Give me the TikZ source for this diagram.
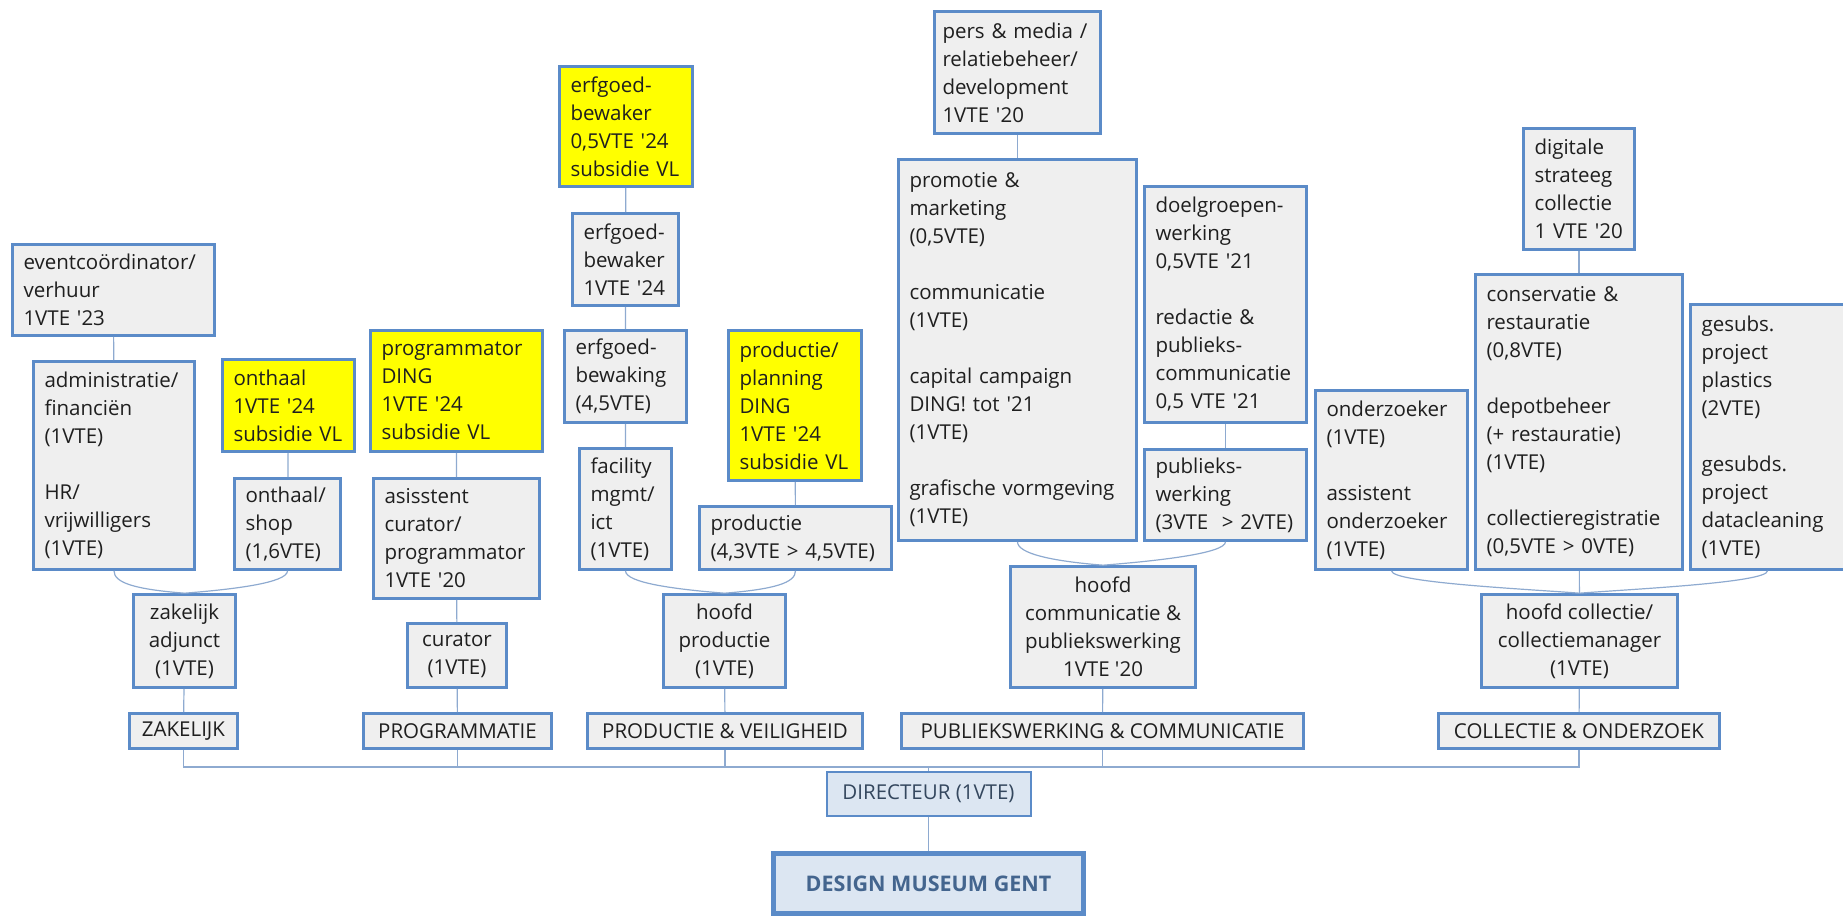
\documentclass[tikz,border=0pt]{standalone}
\usepackage{fontspec}
\setmainfont{Open Sans}[Ligatures=TeXOff]
\usetikzlibrary{positioning}
\definecolor{boxline}{HTML}{5B8BC8}
\definecolor{boxfill}{HTML}{EFEFEF}
\definecolor{linkline}{HTML}{8EAAD0}
\definecolor{topfill}{HTML}{DCE6F2}
\definecolor{dirtext}{HTML}{34475E}
\definecolor{museumtext}{HTML}{44658E}
\definecolor{subsidie}{HTML}{FFFF00}

\begin{document}
\begin{tikzpicture}[x=1pt,y=-1pt,
    every node/.style={font=\fontsize{20.5}{28}\selectfont, text=black!88},
    job/.style 2 args={draw=boxline, line width=2.6pt, fill=boxfill, inner xsep=11pt,
        inner ysep=4pt, align=left, text width=#1, minimum height=#2},
    head/.style 2 args={draw=boxline, line width=2.6pt, fill=boxfill, inner xsep=4pt,
        inner ysep=4pt, align=center, minimum width=#1, minimum height=#2},
    dept/.style={head={#1}{35pt}},
    geel/.style={fill=subsidie},
    link/.style={draw=linkline, line width=1.2pt},
    lbend/.style={to path={.. controls +(0,12) and +(-50,-4) .. (\tikztotarget)}},
    rbend/.style={to path={.. controls +(0,12) and +(50,-4) .. (\tikztotarget)}}]

    \useasboundingbox (0,0) rectangle (1843,917);

    % zakelijk
    \node[job={180pt}{91pt}] (event) at (113.5,290) {eventcoördinator/\\verhuur\\1VTE '23};
    \node[job={139pt}{208pt}] (admin) at (114,465.5) {administratie/\\financiën\\(1VTE)\\[28pt]HR/\\vrijwilligers\\(1VTE)};
    \node[job={110pt}{92pt}, geel] (onthaal) at (288.5,405.5) {onthaal\\1VTE '24\\subsidie VL};
    \node[job={84pt}{91pt}] (shop) at (287.5,524) {onthaal/\\shop\\(1,6VTE)};
    \node[head={102pt}{93pt}] (zakadj) at (184.5,641) {zakelijk\\adjunct\\(1VTE)};
    \node[dept=108pt] (zak) at (183.5,731) {ZAKELIJK};

    % programmatie
    \node[job={150pt}{121pt}, geel] (progding) at (456.5,391) {programmator\\DING\\1VTE '24\\subsidie VL};
    \node[job={144pt}{120pt}] (assist) at (456.5,538.5) {asisstent\\curator/\\programmator\\1VTE '20};
    \node[head={99pt}{64pt}] (curator) at (457,655.5) {curator\\(1VTE)};
    \node[dept=188pt] (prog) at (457.5,731) {PROGRAMMATIE};

    % productie & veiligheid
    \node[job={111pt}{120pt}, geel] (bewakerY) at (626,126.5) {erfgoed-\\bewaker\\0,5VTE '24\\subsidie VL};
    \node[job={84pt}{92pt}] (bewaker) at (625.5,259.5) {erfgoed-\\bewaker\\1VTE '24};
    \node[job={100pt}{92pt}] (bewaking) at (625.5,376.5) {erfgoed-\\bewaking\\(4,5VTE)};
    \node[job={70pt}{121pt}] (facility) at (625.5,509) {facility\\mgmt/\\ict\\(1VTE)};
    \node[job={111pt}{150pt}, geel] (planning) at (795,405.5) {productie/\\planning\\DING\\1VTE '24\\subsidie VL};
    \node[job={170pt}{63pt}] (productie) at (795.5,538) {productie\\(4,3VTE > 4,5VTE)};
    \node[head={122pt}{93pt}] (hoofdprod) at (724.5,641) {hoofd\\productie\\(1VTE)};
    \node[dept=275pt] (prodveil) at (725,731) {PRODUCTIE \& VEILIGHEID};

    % publiekswerking & communicatie
    \node[job={150pt}{122pt}, inner xsep=8pt] (pers) at (1017.5,72.5) {pers \& media~/\\relatiebeheer/\\development\\1VTE '20};
    \node[job={216pt}{381pt}] (promotie) at (1017.5,350) {promotie \&\\marketing\\(0,5VTE)\\[28pt]communicatie\\(1VTE)\\[28pt]capital campaign\\DING! tot '21\\(1VTE)\\[28pt]grafische vormgeving\\(1VTE)};
    \node[job={140pt}{236pt}] (doelgroep) at (1225.5,304.5) {doelgroepen-\\werking\\0,5VTE '21\\[28pt]redactie \&\\publieks-\\communicatie\\0,5 VTE '21};
    \node[job={140pt}{91pt}] (publieks) at (1225.5,495) {publieks-\\werking\\(3VTE~~> 2VTE)};
    \node[head={185pt}{121pt}] (hoofdcom) at (1103,627) {hoofd\\communicatie \&\\publiekswerking\\1VTE '20};
    \node[dept=402pt] (pubcom) at (1102.5,731) {PUBLIEKSWERKING \& COMMUNICATIE};

    % collectie & onderzoek
    \node[job={89pt}{121pt}] (digitaal) at (1579,189) {digitale\\strateeg\\collectie\\1 VTE '20};
    \node[job={185pt}{295pt}] (conserv) at (1579,422) {conservatie \&\\restauratie\\(0,8VTE)\\[28pt]depotbeheer\\(+ restauratie)\\(1VTE)\\[28pt]collectieregistratie\\(0,5VTE > 0VTE)};
    \node[job={132pt}{265pt}] (gesubs) at (1767.5,437) {gesubs.\\project\\plastics\\(2VTE)\\[28pt]gesubds.\\project\\datacleaning\\(1VTE)};
    \node[job={130pt}{179pt}] (onderz) at (1391.5,480) {onderzoeker\\(1VTE)\\[28pt]assistent\\onderzoeker\\(1VTE)};
    \node[head={196pt}{93pt}] (hoofdcol) at (1579.5,641) {hoofd collectie/\\collectiemanager\\(1VTE)};
    \node[dept=281pt] (colond) at (1579,731) {COLLECTIE \& ONDERZOEK};

    % top
    \node[head={204pt}{44pt}, fill=topfill, line width=2pt, text=dirtext] (dir) at (928.5,793.5) {DIRECTEUR (1VTE)};
    \node[head={310pt}{60pt}, fill=topfill, line width=4.5pt, text=museumtext,
        font=\fontsize{21.5}{28}\selectfont\bfseries] (dmg) at (928.5,883.5) {DESIGN MUSEUM GENT};
    \coordinate (bus) at (928.5,767);

    \draw[link] (event) -- (admin);
    \draw[link] (onthaal) -- (shop);
    \draw[link] (admin.south) to[lbend] (zakadj.north);
    \draw[link] (shop.south) to[rbend] (zakadj.north);
    \draw[link] (zakadj) -- (zak);

    \draw[link] (progding) -- (assist) -- (curator) -- (prog);

    \draw[link] (bewakerY) -- (bewaker) -- (bewaking) -- (facility);
    \draw[link] (planning) -- (productie);
    \draw[link] (facility.south) to[lbend] (hoofdprod.north);
    \draw[link] (productie.south) to[rbend] (hoofdprod.north);
    \draw[link] (hoofdprod) -- (prodveil);

    \draw[link] (pers) -- (promotie);
    \draw[link] (doelgroep) -- (publieks);
    \draw[link] (promotie.south) to[lbend] (hoofdcom.north);
    \draw[link] (publieks.south) to[rbend] (hoofdcom.north);
    \draw[link] (hoofdcom) -- (pubcom);

    \draw[link] (digitaal) -- (conserv);
    \draw[link] (onderz.south) to[lbend] (hoofdcol.north);
    \draw[link] (conserv) -- (hoofdcol);
    \draw[link] (gesubs.south) to[rbend] (hoofdcol.north);
    \draw[link] (hoofdcol) -- (colond);

    % naar de directeur
    \foreach \d in {zak,prog,prodveil,pubcom,colond}
        \draw[link] (\d.south) |- (bus);
    \draw[link] (dir.north) -- (bus);
    \draw[link] (dir) -- (dmg);
\end{tikzpicture}
\end{document}
